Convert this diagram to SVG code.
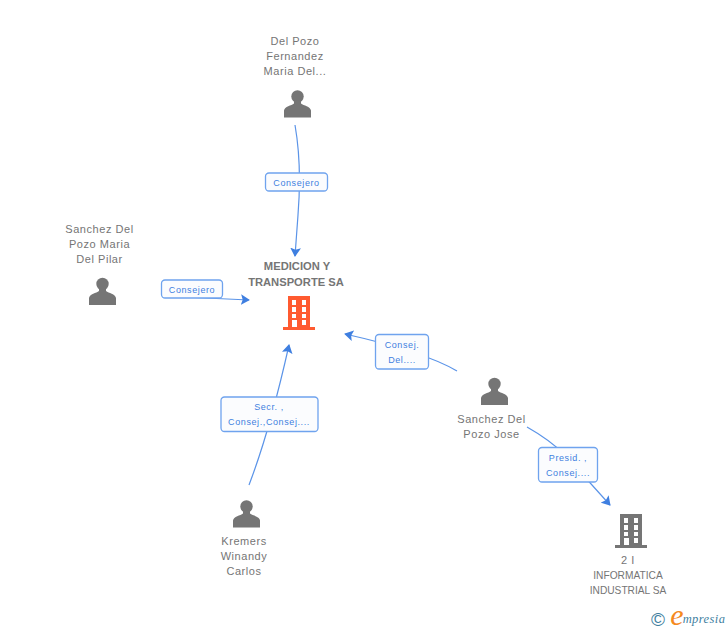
<svg xmlns="http://www.w3.org/2000/svg" width="728" height="630" viewBox="0 0 728 630">
<style>
text{font-family:"Liberation Sans",Arial,sans-serif;text-anchor:middle}
.n{font-size:11px;fill:#757575;letter-spacing:.55px}
.u{font-size:10.200px;fill:#757575}
.b{font-size:11.200px;font-weight:bold;fill:#757575}
.l{font-size:9px;fill:#3f7fe0;letter-spacing:.6px}
.c{fill:none;stroke:#5b94e8;stroke-width:1.200}
.box{fill:#fbfcfe;stroke:#6fa3ee;stroke-width:1.300}
.p{fill:#757575}
</style>
<defs>
<marker id="a" viewBox="0 0 10 12" refX="9" refY="6" markerWidth="9" markerHeight="11" orient="auto" markerUnits="userSpaceOnUse"><path d="M0 0L10 6L0 12L2 6Z" fill="#3f7fe0"/></marker>
<g id="person"><circle cx="0" cy="-7" r="6.200" class="p"/><path class="p" d="M-3.500-3V0C-6 2-13 3-13.500 7V14H13.500V7C13 3 6 2 3.500 0V-3Z"/></g>
<g id="bld"><path fill-rule="evenodd" d="M-11-17H11V14H16V17H-16V14H-11ZM-7-13V-8H-3V-13ZM3-13V-8H7V-13ZM-7-6V-1H-3V-6ZM3-6V-1H7V-6ZM-7 1V5H-3V1ZM3 1V5H7V1ZM-7 7V14H-2V7ZM3 7V12H7V7Z"/></g>
</defs>
<g id="connectors">
<path class="c" d="M295 125Q302 165 298 215L295 256" marker-end="url(#a)"/>
<path class="c" d="M162 296L249 300" marker-end="url(#a)"/>
<path class="c" d="M249 485Q270 430 289 345" marker-end="url(#a)"/>
<path class="c" d="M457 371Q425 352 345 334" marker-end="url(#a)"/>
<path class="c" d="M527 427Q550 440 565 455L610 505" marker-end="url(#a)"/>
</g>
<g id="edge-labels">
<rect class="box" x="265.500" y="173" width="62" height="18" rx="3.500"/><text class="l" x="296.500" y="186">Consejero</text>
<rect class="box" x="161.500" y="280" width="61" height="18" rx="3.500"/><text class="l" x="192" y="293">Consejero</text>
<rect class="box" x="221" y="397" width="97" height="34.500" rx="3.500"/><text class="l" x="269" y="410">Secr. ,</text><text class="l" x="269" y="425">Consej.,Consej....</text>
<rect class="box" x="375.500" y="334.500" width="53" height="34.500" rx="3.500"/><text class="l" x="402" y="348">Consej.</text><text class="l" x="402" y="363">Del....</text>
<rect class="box" x="538.500" y="447.500" width="59" height="34.500" rx="3.500"/><text class="l" x="568" y="461">Presid. ,</text><text class="l" x="568" y="476">Consej....</text>
</g>
<g id="node-medicion"><text class="b" x="297" y="270">MEDICION Y</text><text class="b" x="296" y="285.500">TRANSPORTE SA</text><use href="#bld" x="299" y="313" fill="#ff5a30"/></g>
<g id="node-delpozo"><text class="n" x="295" y="44.500">Del Pozo</text><text class="n" x="295" y="59.500">Fernandez</text><text class="n" x="295" y="74.500">Maria Del...</text><use href="#person" x="297.500" y="103.500"/></g>
<g id="node-sanchez-maria"><text class="n" x="99.500" y="232.500">Sanchez Del</text><text class="n" x="99.500" y="247.500">Pozo Maria</text><text class="n" x="99.500" y="262.500">Del Pilar</text><use href="#person" x="102.500" y="291"/></g>
<g id="node-sanchez-jose"><use href="#person" x="494.500" y="391"/><text class="n" x="491.500" y="422.500">Sanchez Del</text><text class="n" x="491.500" y="437.500">Pozo Jose</text></g>
<g id="node-kremers"><use href="#person" x="246.500" y="513.500"/><text class="n" x="244" y="544.500">Kremers</text><text class="n" x="244" y="559.500">Winandy</text><text class="n" x="244" y="574.500">Carlos</text></g>
<g id="node-21"><use href="#bld" x="631" y="531" fill="#757575"/><text class="n" x="628" y="563.500">2 I</text><text class="u" x="628" y="578.500">INFORMATICA</text><text class="u" x="628" y="593.500">INDUSTRIAL SA</text></g>
<g id="logo"><text x="658" y="625.500" style="font-size:19px;fill:#3f7f9f">©</text><text x="677" y="625" style="font-size:30px;font-family:'Liberation Serif',serif;font-style:italic;fill:#f58a1f">e</text><text x="704" y="623" style="font-size:12.500px;font-family:'Liberation Serif',serif;font-style:italic;fill:#3f7f9f;letter-spacing:.4px">mpresia</text></g>
</svg>
